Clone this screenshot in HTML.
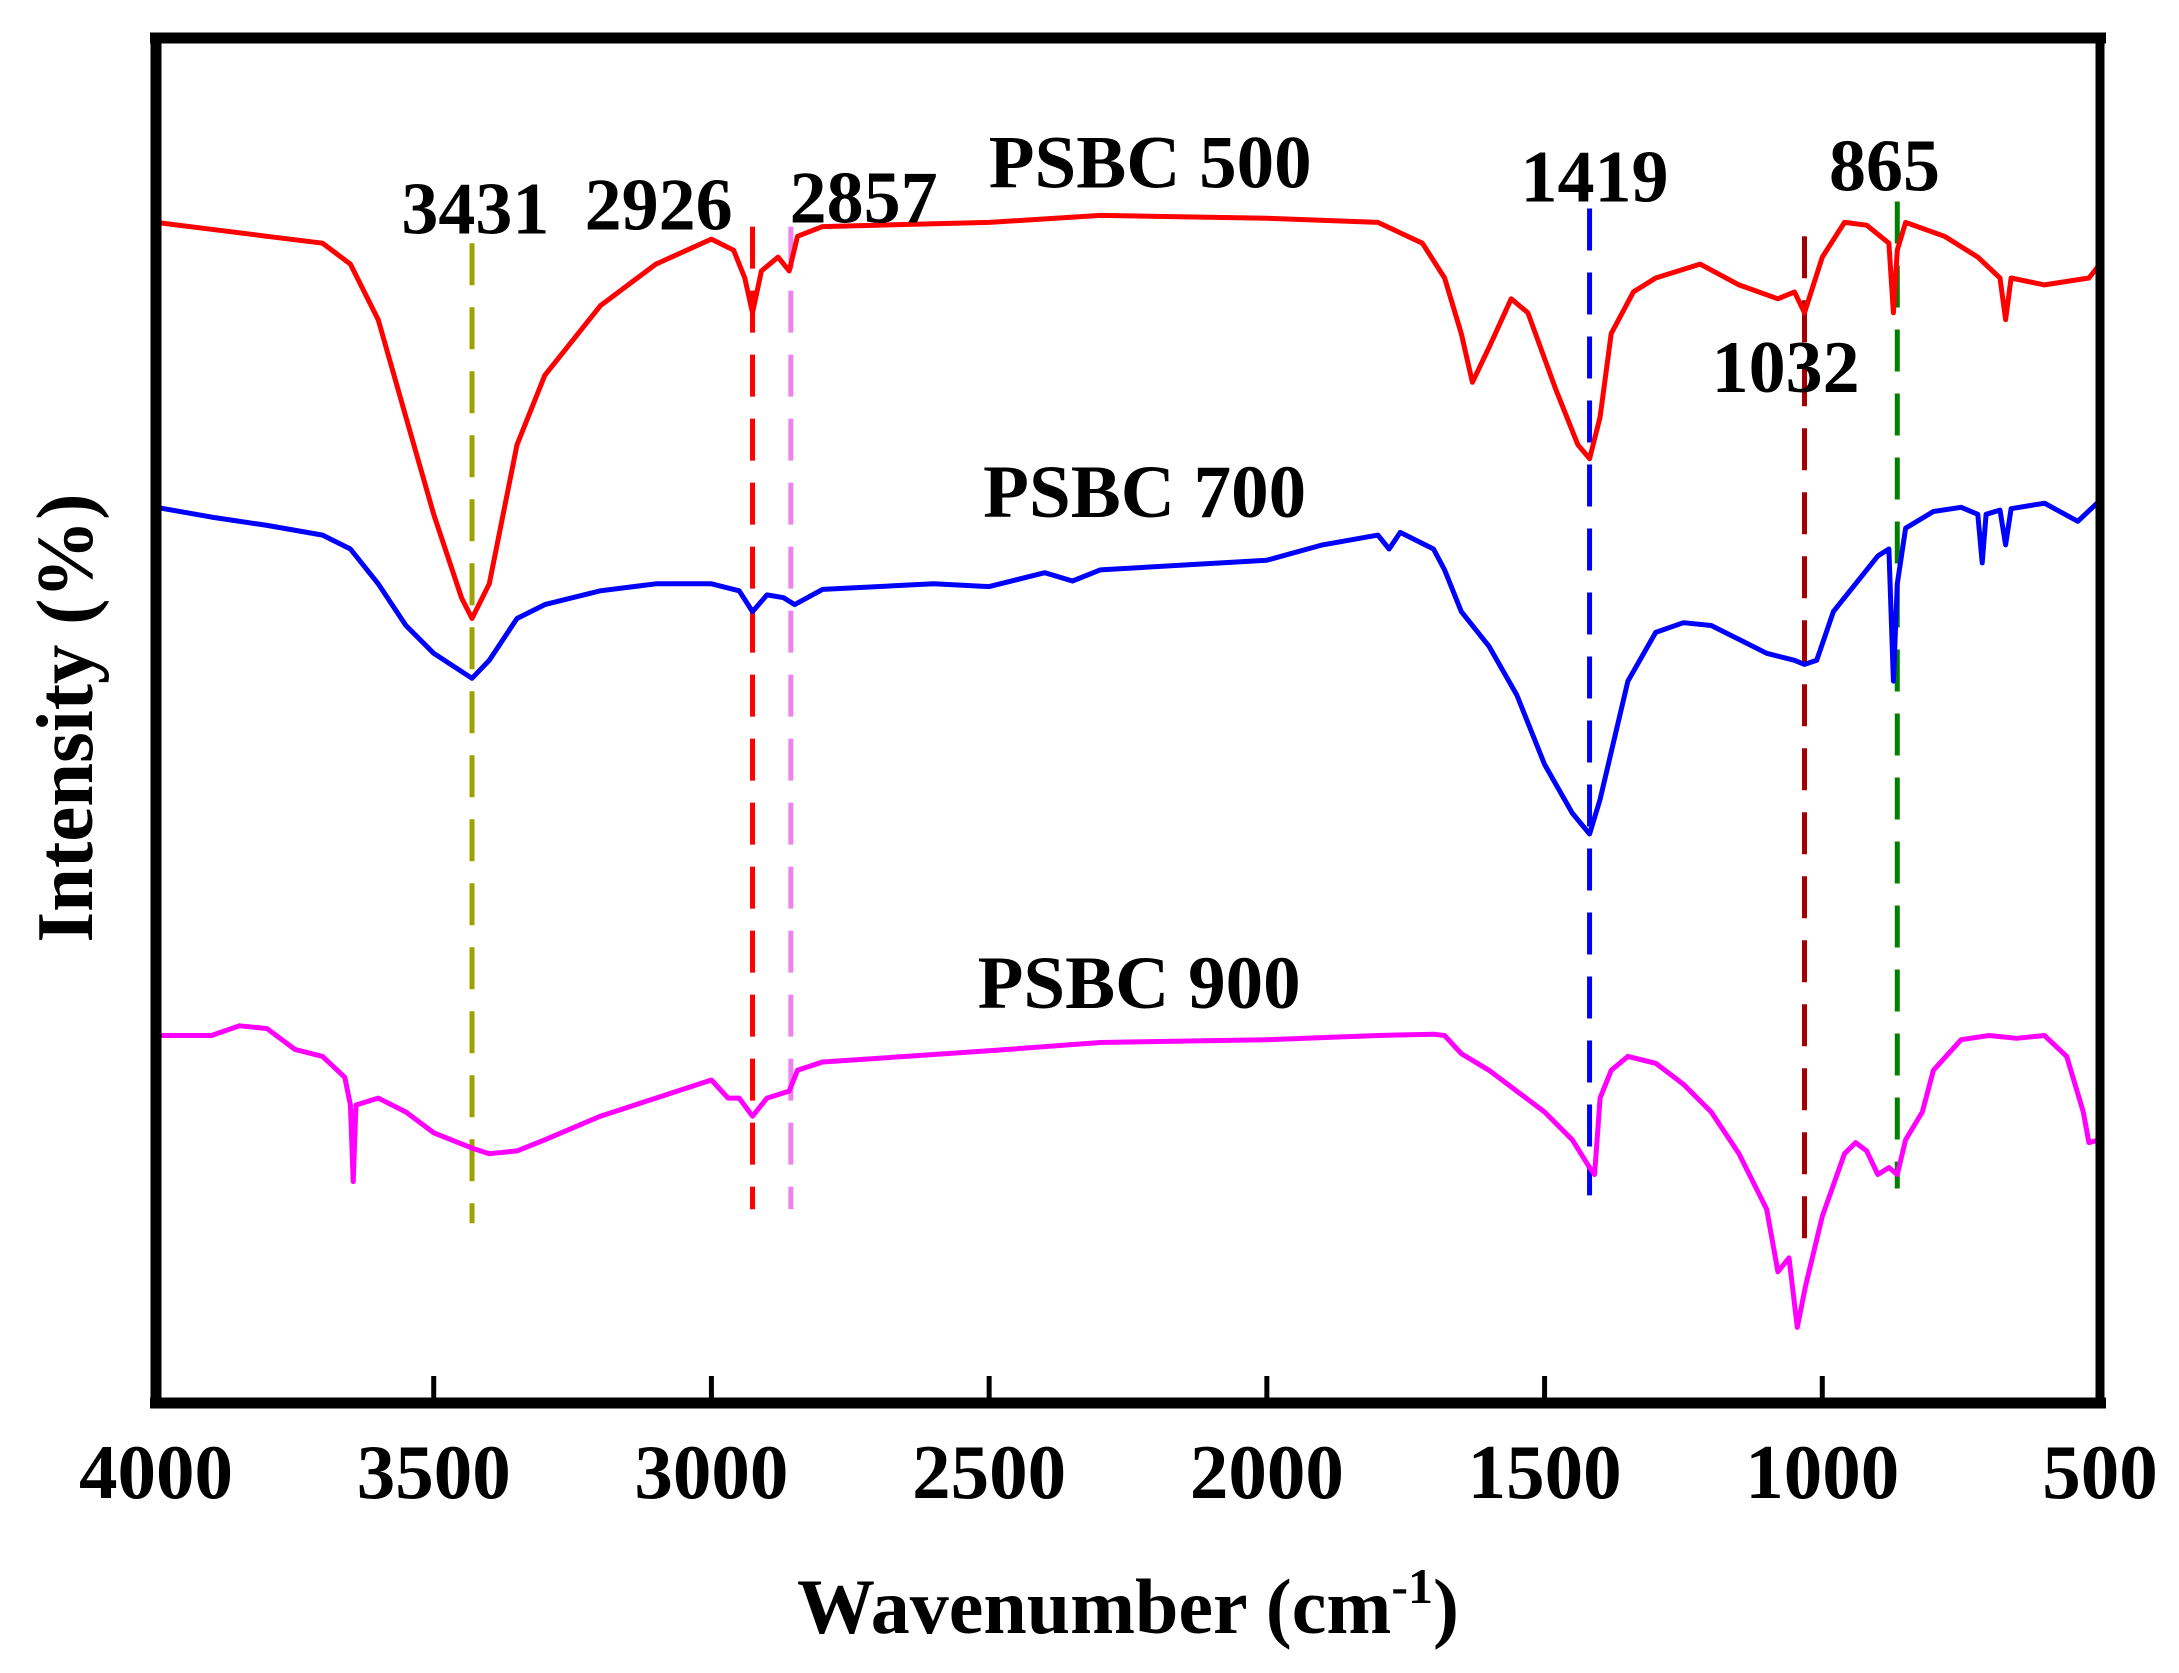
<!DOCTYPE html>
<html><head><meta charset="utf-8"><style>
html,body{margin:0;padding:0;background:#fff;}
svg{display:block;}
text{font-family:"Liberation Serif",serif;font-weight:bold;fill:#000;}
</style></head><body>
<svg id="chart" width="2179" height="1673" viewBox="0 0 2179 1673" xmlns="http://www.w3.org/2000/svg">
<rect x="0" y="0" width="2179" height="1673" fill="#fff"/>
<g id="marks"></g>
<g id="axes"></g>
</svg>
<script>
const xTicks=[4000,3500,3000,2500,2000,1500,1000,500];
const xTickLabels=["4000","3500","3000","2500","2000","1500","1000","500"];
const wn500=[4000,3900,3800,3700,3650,3600,3550,3500,3450,3431,3400,3350,3300,3200,3100,3000,2960,2940,2926,2910,2880,2860,2845,2800,2500,2300,2000,1800,1720,1680,1650,1630,1600,1560,1530,1480,1440,1419,1400,1380,1340,1300,1220,1150,1080,1050,1032,1000,960,920,880,872,865,850,780,720,680,670,660,600,520,500];
const i500=[840,835,830,825,810,770,700,630,570,555,580,680,730,780,810,828,820,800,775,805,815,805,830,837,840,845,843,840,825,800,760,725,750,785,775,720,680,670,700,760,790,800,810,795,785,790,775,815,840,838,825,775,820,840,830,815,800,770,800,795,800,810];
const wn700=[4000,3900,3800,3700,3650,3600,3550,3500,3431,3400,3350,3300,3200,3100,3000,2950,2926,2900,2870,2850,2800,2600,2500,2400,2350,2300,2000,1900,1800,1780,1760,1700,1680,1650,1600,1550,1500,1450,1419,1400,1350,1300,1250,1200,1150,1100,1050,1032,1010,980,930,900,880,872,865,850,800,750,720,712,705,680,670,660,600,540,500];
const i700=[635,628,622,615,605,580,550,530,512,525,555,565,575,580,580,575,560,572,570,565,576,580,578,588,582,590,597,608,615,605,617,605,590,560,535,500,450,415,400,425,510,545,552,550,540,530,525,522,525,560,585,600,605,510,580,620,632,635,630,595,630,633,608,634,638,625,640];
const wn900=[4000,3900,3850,3800,3750,3700,3660,3650,3645,3640,3600,3550,3500,3431,3400,3350,3300,3200,3100,3000,2970,2950,2926,2900,2860,2845,2800,2500,2300,2000,1800,1700,1680,1650,1600,1550,1500,1450,1419,1410,1400,1380,1350,1300,1250,1200,1150,1100,1080,1060,1045,1030,1000,960,940,920,900,880,865,850,820,800,750,700,650,600,560,530,520,500];
const i900=[255,255,262,260,245,240,225,205,150,205,210,200,185,174,170,172,180,197,210,223,210,210,197,210,215,230,236,244,250,252,255,256,255,242,230,215,200,180,160,155,210,230,240,235,220,200,170,130,85,95,45,75,125,170,178,172,155,160,155,180,200,230,252,255,253,255,240,200,178,180];
const lineWn=[3431,2926,2857,1419,1032,865];
const lineColors=["#a0a000","#ff0000","#ee82ee","#0000ff","#a00000","#008000"];
const lineTopI=[825,837,837,850,830,855];
const lineBotI=[120,130,130,140,95,145];
const annTexts=["3431","2926","2857","1419","1032","865"];
const annX=[3425,3095,2726,1410,1066,888];
const annI=[832,835,840,855,718,863];
const sampleNames=["PSBC 500","PSBC 700","PSBC 900"];
const sampleLabelX=[2210,2220,2230];
const sampleLabelI=[865,628,275];

const L=156,R=2100,T=38,B=1403;
function xs(w){return L+(4000-w)*(R-L)/3500;}
function ys(v){return (1000-v)*1.39;}
const NS="http://www.w3.org/2000/svg";
const marks=document.getElementById('marks'),axes=document.getElementById('axes');
function mk(tag,attrs,parent){const e=document.createElementNS(NS,tag);for(const k in attrs)e.setAttribute(k,attrs[k]);parent.appendChild(e);return e;}

lineWn.forEach((w,i)=>{
 const ln=mk('line',{x1:xs(w),x2:xs(w),y1:ys(lineTopI[i]),y2:ys(lineBotI[i]),stroke:lineColors[i],'stroke-width':5,'stroke-dasharray':'42 22'},marks);
 
 
});
function series(wn,vals,color,name){
 const d=wn.map((w,i)=>(i?'L':'M')+xs(w).toFixed(1)+' '+ys(vals[i]).toFixed(1)).join(' ');
 const p=mk('path',{d:d,fill:'none',stroke:color,'stroke-width':5,'stroke-linejoin':'round'},marks);
 
 
}
series(wn500,i500,'#ff0000','series-psbc-500');
series(wn700,i700,'#0000ff','series-psbc-700');
series(wn900,i900,'#ff00ff','series-psbc-900');

annTexts.forEach((t,i)=>{
 const e=mk('text',{x:xs(annX[i]),y:ys(annI[i]),'text-anchor':'middle','font-size':74},marks);
 e.textContent=t;
 
 
});
sampleNames.forEach((t,i)=>{
 const e=mk('text',{x:xs(sampleLabelX[i]),y:ys(sampleLabelI[i]),'text-anchor':'middle','font-size':75},marks);
 e.textContent=t;
 
 
});

let a;
a=mk('line',{x1:L-6,x2:R+6,y1:T,y2:T,stroke:'#000','stroke-width':11},axes);


a=mk('line',{x1:L-6,x2:R+6,y1:B,y2:B,stroke:'#000','stroke-width':11},axes);


a=mk('line',{x1:L,x2:L,y1:T,y2:B,stroke:'#000','stroke-width':11},axes);


a=mk('line',{x1:R,x2:R,y1:T,y2:B,stroke:'#000','stroke-width':9},axes);


xTicks.forEach((w,i)=>{
 if(i>0&&i<xTicks.length-1){
  const tk=mk('line',{x1:xs(w),x2:xs(w),y1:B,y2:B-27,stroke:'#000','stroke-width':5},axes);
  
  
 }
 const lb=mk('text',{x:xs(w),y:1498,'text-anchor':'middle','font-size':77},axes);
 lb.textContent=xTickLabels[i];
 
 
});
const xt=mk('text',{x:1128,y:1633,'text-anchor':'middle','font-size':78},axes);
xt.innerHTML='Wavenumber (cm<tspan dy="-30" font-size="50">-1</tspan><tspan dy="30">)</tspan>';


const yt=mk('text',{x:0,y:0,'text-anchor':'middle','font-size':80,transform:'translate(92,718) rotate(-90)',textLength:449,lengthAdjust:'spacingAndGlyphs'},axes);
yt.textContent='Intensity (%)';


</script>
</body></html>
